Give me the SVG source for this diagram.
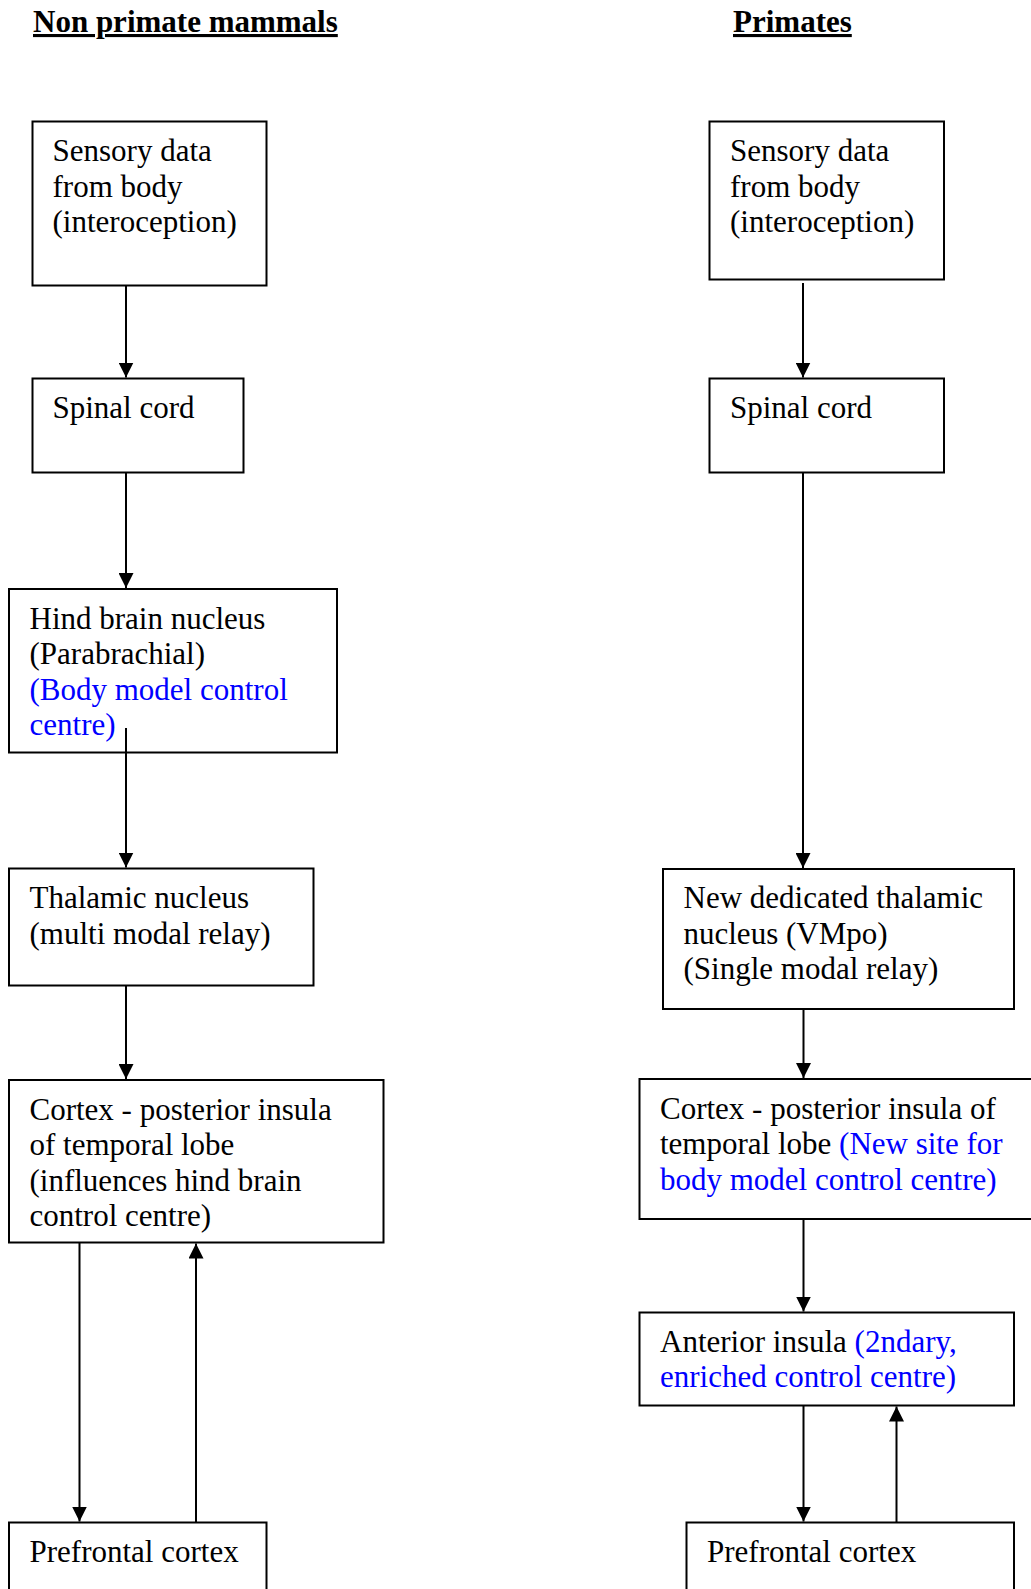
<svg xmlns="http://www.w3.org/2000/svg" width="1031" height="1589" viewBox="0 0 1031 1589">
<defs>
<style>
text{font-family:"Liberation Serif","Times New Roman",serif;font-size:31px;fill:#000}
.title{font-weight:bold;text-decoration:underline}
.blue{fill:#0000ff}
.box{fill:#fff;stroke:#000;stroke-width:2}
.conn line{stroke:#000;stroke-width:2;fill:none}
</style>
<marker id="arr" markerUnits="userSpaceOnUse" markerWidth="16" markerHeight="15" refX="15" refY="7.5" orient="auto" viewBox="0 0 16 15">
<path d="M0,0 L15,7.5 L0,15 Z" fill="#000"/>
</marker>
</defs>
<rect width="1031" height="1589" fill="#fff"/>
<g id="titles">
<text class="title" x="33" y="32">Non primate mammals</text>
<text class="title" x="733" y="32">Primates</text>
</g>
<g id="L-sensory">
<rect class="box" x="32.5" y="121.5" width="234" height="164"/>
<text x="52.5" y="161">Sensory data</text>
<text x="52.5" y="196.5">from body</text>
<text x="52.5" y="232">(interoception)</text>
</g>
<g id="L-spinal">
<rect class="box" x="32.5" y="378.5" width="211" height="94"/>
<text x="52.5" y="418">Spinal cord</text>
</g>
<g id="L-hindbrain">
<rect class="box" x="9" y="589" width="328" height="163.5"/>
<text x="29.5" y="628.5">Hind brain nucleus</text>
<text x="29.5" y="664">(Parabrachial)</text>
<text class="blue" x="29.5" y="699.5">(Body model control</text>
<text class="blue" x="29.5" y="735">centre)</text>
</g>
<g id="L-thalamic">
<rect class="box" x="9" y="868.5" width="304.5" height="117"/>
<text x="29.5" y="908">Thalamic nucleus</text>
<text x="29.5" y="943.5">(multi modal relay)</text>
</g>
<g id="L-cortex">
<rect class="box" x="9" y="1080" width="374.5" height="162.5"/>
<text x="29.5" y="1119.5">Cortex - posterior insula</text>
<text x="29.5" y="1155">of temporal lobe</text>
<text x="29.5" y="1190.5">(influences hind brain</text>
<text x="29.5" y="1226">control centre)</text>
</g>
<g id="L-prefrontal">
<rect class="box" x="9" y="1522.5" width="257.5" height="100"/>
<text x="29.5" y="1562">Prefrontal cortex</text>
</g>
<g id="R-sensory">
<rect class="box" x="709.5" y="121.5" width="234.5" height="158"/>
<text x="730" y="161">Sensory data</text>
<text x="730" y="196.5">from body</text>
<text x="730" y="232">(interoception)</text>
</g>
<g id="R-spinal">
<rect class="box" x="709.5" y="378.5" width="234.5" height="94"/>
<text x="730" y="418">Spinal cord</text>
</g>
<g id="R-thalamic">
<rect class="box" x="663" y="869" width="351" height="140"/>
<text x="683.5" y="908">New dedicated thalamic</text>
<text x="683.5" y="943.5">nucleus (VMpo)</text>
<text x="683.5" y="979">(Single modal relay)</text>
</g>
<g id="R-cortex">
<rect class="box" x="639.5" y="1079" width="400" height="140"/>
<text x="660" y="1118.5">Cortex - posterior insula of</text>
<text x="660" y="1154">temporal lobe <tspan class="blue">(New site for</tspan></text>
<text class="blue" x="660" y="1189.5">body model control centre)</text>
</g>
<g id="R-anterior">
<rect class="box" x="639.5" y="1312.5" width="374.5" height="93"/>
<text x="660" y="1351.5">Anterior insula <tspan class="blue">(2ndary,</tspan></text>
<text class="blue" x="660" y="1387">enriched control centre)</text>
</g>
<g id="R-prefrontal">
<rect class="box" x="686.5" y="1522.5" width="327.5" height="100"/>
<text x="707" y="1562">Prefrontal cortex</text>
</g>
<g id="connectors" class="conn">
<line x1="126" y1="285.5" x2="126" y2="377.5" marker-end="url(#arr)"/>
<line x1="126" y1="472.5" x2="126" y2="588" marker-end="url(#arr)"/>
<line x1="126" y1="728" x2="126" y2="867.5" marker-end="url(#arr)"/>
<line x1="126" y1="985.5" x2="126" y2="1079" marker-end="url(#arr)"/>
<line x1="79.5" y1="1242.5" x2="79.5" y2="1521.5" marker-end="url(#arr)"/>
<line x1="196" y1="1522.5" x2="196" y2="1243.5" marker-end="url(#arr)"/>
<line x1="803" y1="283" x2="803" y2="377.5" marker-end="url(#arr)"/>
<line x1="803" y1="472.5" x2="803" y2="868" marker-end="url(#arr)"/>
<line x1="803.5" y1="1009" x2="803.5" y2="1078" marker-end="url(#arr)"/>
<line x1="803.5" y1="1219" x2="803.5" y2="1311.5" marker-end="url(#arr)"/>
<line x1="803.5" y1="1405.5" x2="803.5" y2="1521.5" marker-end="url(#arr)"/>
<line x1="896.5" y1="1522.5" x2="896.5" y2="1406.5" marker-end="url(#arr)"/>
</g>
</svg>
